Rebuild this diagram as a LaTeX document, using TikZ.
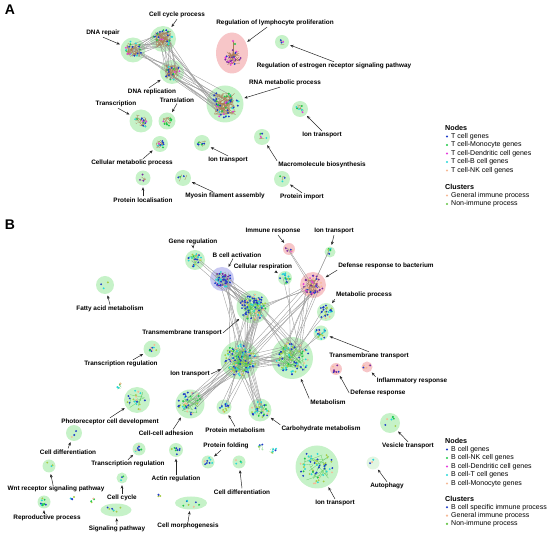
\documentclass[tikz,border=0pt]{standalone}
\usepackage{fontspec}
\setmainfont{Liberation Sans}
\usetikzlibrary{arrows.meta,calc,shapes.geometric}

\definecolor{gblue}{RGB}{30,60,200}
\definecolor{ggreen}{RGB}{30,200,70}
\definecolor{gmag}{RGB}{230,60,220}
\definecolor{gcyan}{RGB}{40,215,215}
\definecolor{gpeach}{RGB}{245,185,150}
\definecolor{gyel}{RGB}{165,205,70}
\definecolor{gleg}{RGB}{100,195,70}
\definecolor{gpur}{RGB}{120,40,160}
\definecolor{gbrown}{RGB}{170,125,85}
\definecolor{cgreen}{RGB}{198,242,200}
\definecolor{cpink}{RGB}{247,198,200}
\definecolor{cblue}{RGB}{200,200,242}
\definecolor{cpale}{RGB}{226,246,226}

\pgfmathdeclarerandomlist{la}{{gblue}{gblue}{gblue}{ggreen}{ggreen}{gcyan}{gmag}}
\pgfmathdeclarerandomlist{lp}{{gmag}{gpur}{gpur}{gblue}}
\pgfmathdeclarerandomlist{lb}{{gblue}{gblue}{gblue}{gcyan}{gcyan}{ggreen}{gyel}{gyel}{gpeach}}
\pgfmathdeclarerandomlist{lbp}{{gpur}{gpur}{gblue}{gpeach}{gpeach}{gmag}}
\pgfmathdeclarerandomlist{lbb}{{gblue}{gblue}{gcyan}{gpur}}

% dots, links between clusters, links inside a cluster
\newcommand\clusterdots[5]{\foreach \i in {1,...,#2}{\pgfmathsetmacro\ga{360*rnd}\pgfmathsetmacro\gr{sqrt(rnd)}\pgfmathrandomitem{\gc}{#5}\fill[fill=\gc] ($(#1)+({#3*\gr*cos(\ga)},{#4*\gr*sin(\ga)})$) circle (1.05pt);}}
\newcommand\clusterlinks[5]{\foreach \i in {1,...,#3}\draw[link] ($(#1)+({#4*rand},{#4*rand})$) -- ($(#2)+({#5*rand},{#5*rand})$);}
\newcommand\innerlinks[4]{\foreach \i in {1,...,#2}\draw[#4] ($(#1)+({#3*rand},{#3*rand})$) -- ($(#1)+({#3*rand},{#3*rand})$);}

\begin{document}
\begin{tikzpicture}[x=1pt,y=-1pt,
  clu/.style={circle,fill=cgreen,inner sep=0pt,minimum size=#1},
  lab/.style={font=\fontsize{6.4}{7}\selectfont\bfseries,inner sep=1pt},
  leg/.style={font=\fontsize{7}{8}\selectfont,anchor=west,inner sep=0pt},
  head/.style={font=\fontsize{7.2}{8}\selectfont\bfseries,anchor=west,inner sep=0pt},
  link/.style={gray!80,line width=0.35pt},
  inA/.style={gbrown,line width=0.3pt},
  inB/.style={green!50!gray!90,line width=0.3pt,opacity=0.8},
  arr/.style={-{Stealth[length=3.4pt,width=2.8pt]},line width=0.5pt,black!85,shorten >=1.5pt}]
\useasboundingbox (0,0) rectangle (550,537);
\pgfmathsetseed{12}

\node[font=\fontsize{14}{14}\selectfont\bfseries] (pa) at (10,10) {A};
\node[font=\fontsize{14}{14}\selectfont\bfseries] (pb) at (10,225) {B};

% panel A clusters
\node[clu=25pt] (dnarep) at (133,50) {};
\node[clu=26pt] (cellcyc) at (163,39) {};
\node[clu=24pt] (dnarepl) at (172,72) {};
\node[ellipse,fill=cpink,inner sep=0pt,minimum width=32pt,minimum height=41pt] (reglym) at (232,53) {};
\coordinate (rlcore) at (233,58);
\coordinate (rltail) at (233,41);
\node[clu=14pt] (estro) at (282,42) {};
\node[clu=37pt] (rnamet) at (225,104) {};
\node[clu=23pt] (transc) at (141,121) {};
\node[clu=17pt] (transl) at (167,121) {};
\node[clu=16pt] (cellmet) at (160,144) {};
\node[clu=16pt] (iona1) at (202,143) {};
\node[clu=16pt] (macro) at (262,137) {};
\node[clu=16pt] (iona2) at (300,109) {};
\node[clu=16pt] (protimp) at (282,179) {};
\node[clu=15pt] (protloc) at (143,178) {};
\node[clu=16pt] (myosin) at (183,178) {};

% panel B clusters
\node[clu=20pt] (genereg) at (195,260) {};
\node[clu=24pt,fill=cblue] (bact) at (222,279) {};
\node[clu=14pt] (cellresp) at (285,278) {};
\node[clu=12pt,fill=cpink] (immresp) at (289,249) {};
\node[clu=11pt] (ionb1) at (330,252) {};
\node[clu=26pt,fill=cpink] (defbac) at (313,285) {};
\node[clu=18pt] (metproc) at (326,312) {};
\node[clu=15pt] (tmr) at (321,333) {};
\node[clu=33pt] (tml) at (253,307) {};
\node[clu=18pt] (fatty) at (105,285) {};
\node[clu=17pt] (trrega) at (152,349) {};
\node[clu=39pt] (ionb) at (240,360) {};
\node[clu=42pt] (metab) at (292,358) {};
\node[clu=12pt,fill=cpink] (defresp) at (336,369) {};
\node[clu=11pt,fill=cpink] (inflam) at (367,367) {};
\node[clu=26pt] (photo) at (137,400) {};
\node[clu=29pt] (cca) at (190,404) {};
\node[clu=15pt] (protmet) at (224,407) {};
\node[clu=23pt] (carbo) at (260,410) {};
\node[clu=16pt] (celldifl) at (74,433) {};
\node[clu=13pt] (trregb) at (139,449) {};
\node[clu=14pt] (actin) at (176,450) {};
\node[clu=13pt] (protfold) at (208,462) {};
\node[clu=13pt] (celldifr) at (239,462) {};
\node[clu=13pt] (wnt) at (49,466) {};
\node[clu=11pt] (cellcycb) at (122,478) {};
\node[clu=13pt] (repro) at (44,502) {};
\node[ellipse,fill=cgreen,inner sep=0pt,minimum width=31pt,minimum height=13pt] (signal) at (116,510) {};
\node[ellipse,fill=cgreen,inner sep=0pt,minimum width=32pt,minimum height=13pt] (morph) at (191,503) {};
\node[clu=43pt] (ionbot) at (317,467) {};
\node[clu=20pt] (vesic) at (390,423) {};
\node[clu=13pt,fill=cpale] (autoph) at (373,463) {};
\coordinate (fr1) at (119,386);
\coordinate (fr2) at (262,448);
\coordinate (fr3) at (273,451);
\coordinate (fr4) at (73,499);
\coordinate (fr5) at (94,501);
\coordinate (fr6) at (158,496);

% links between clusters
\clusterlinks{dnarep}{cellcyc}{14}{7}{8}
\clusterlinks{dnarep}{rnamet}{3}{6}{10}
\clusterlinks{cellcyc}{dnarepl}{10}{7}{7}
\clusterlinks{cellcyc}{rnamet}{5}{6}{10}
\clusterlinks{dnarepl}{rnamet}{9}{6}{10}
\clusterlinks{dnarep}{dnarepl}{3}{6}{6}
\clusterlinks{bact}{tml}{12}{7}{10}
\clusterlinks{bact}{ionb}{6}{7}{10}
\clusterlinks{genereg}{tml}{3}{5}{9}
\clusterlinks{tml}{ionb}{16}{10}{10}
\clusterlinks{tml}{metab}{6}{9}{12}
\clusterlinks{ionb}{metab}{14}{11}{12}
\clusterlinks{metab}{defbac}{5}{10}{7}
\clusterlinks{ionb}{defbac}{5}{10}{7}
\clusterlinks{tml}{defbac}{3}{9}{7}
\clusterlinks{cellresp}{metab}{2}{4}{10}
\clusterlinks{ionb1}{metab}{2}{3}{10}
\clusterlinks{immresp}{defbac}{2}{3}{6}
\clusterlinks{metproc}{metab}{2}{5}{10}
\clusterlinks{tmr}{metab}{2}{4}{10}
\clusterlinks{ionb}{cca}{12}{10}{8}
\clusterlinks{ionb}{protmet}{5}{10}{4}
\clusterlinks{ionb}{carbo}{10}{10}{6}

% links inside clusters
\innerlinks{dnarep}{25}{7}{inA}
\innerlinks{cellcyc}{45}{8}{inA}
\innerlinks{dnarepl}{35}{7}{inA}
\innerlinks{rlcore}{30}{7}{inA}
\draw[inA] (rlcore) -- (rltail);
\innerlinks{rnamet}{70}{11}{inA}
\innerlinks{transc}{18}{6}{inA}
\innerlinks{transl}{10}{4}{inA}
\innerlinks{cellmet}{12}{4}{inA}
\innerlinks{iona1}{6}{4}{inA}
\innerlinks{iona2}{6}{4}{inA}
\innerlinks{estro}{3}{3}{inA}
\innerlinks{macro}{3}{3}{inA}
\innerlinks{protimp}{3}{3}{inA}
\innerlinks{protloc}{3}{3}{inA}
\innerlinks{myosin}{2}{4}{inA}
\innerlinks{tml}{35}{10}{inB}
\innerlinks{ionb}{50}{12}{inB}
\innerlinks{metab}{35}{13}{inB}
\innerlinks{defbac}{25}{8}{inA}
\innerlinks{bact}{15}{7}{inB}
\innerlinks{genereg}{8}{5}{inB}
\innerlinks{cca}{14}{9}{inB}
\innerlinks{carbo}{10}{7}{inB}
\innerlinks{photo}{8}{8}{inB}
\innerlinks{ionbot}{18}{13}{inB}
\innerlinks{fr1}{3}{3}{inB}
\innerlinks{fr2}{3}{4}{inB}
\innerlinks{fr3}{3}{4}{inB}

% genes
\clusterdots{dnarep}{18}{9}{9}{la}
\clusterdots{cellcyc}{22}{10}{10}{la}
\clusterdots{dnarepl}{16}{8}{8}{la}
\clusterdots{rlcore}{22}{8}{9}{lp}
\fill[fill=ggreen] ($(rltail)+(2,3)$) circle (1.05pt);
\fill[fill=gmag] (rltail) circle (1.05pt);
\clusterdots{estro}{3}{3}{3}{la}
\clusterdots{rnamet}{45}{14}{14}{la}
\clusterdots{transc}{12}{7}{7}{la}
\clusterdots{transl}{8}{5}{5}{la}
\clusterdots{cellmet}{8}{5}{5}{la}
\clusterdots{iona1}{6}{5}{5}{la}
\clusterdots{macro}{4}{5}{5}{la}
\clusterdots{iona2}{6}{5}{5}{la}
\clusterdots{protimp}{3}{4}{4}{la}
\clusterdots{protloc}{3}{4}{4}{lp}
\clusterdots{myosin}{3}{5}{5}{la}
\clusterdots{genereg}{28}{7}{7}{lb}
\clusterdots{bact}{40}{9}{9}{lbb}
\clusterdots{cellresp}{16}{5}{5}{lb}
\clusterdots{immresp}{7}{4}{4}{lbp}
\clusterdots{ionb1}{7}{4}{4}{lb}
\clusterdots{defbac}{50}{10}{10}{lbp}
\clusterdots{metproc}{25}{7}{7}{lb}
\clusterdots{tmr}{20}{6}{6}{lb}
\clusterdots{tml}{80}{13}{13}{lb}
\clusterdots{fatty}{3}{5}{5}{lb}
\clusterdots{trrega}{10}{5}{5}{lb}
\clusterdots{ionb}{110}{16}{16}{lb}
\clusterdots{metab}{70}{17}{17}{lb}
\clusterdots{defresp}{8}{4}{4}{lbp}
\clusterdots{inflam}{6}{4}{4}{lbp}
\clusterdots{photo}{18}{10}{10}{lb}
\clusterdots{cca}{35}{12}{12}{lb}
\clusterdots{protmet}{14}{5}{5}{lb}
\clusterdots{carbo}{28}{9}{9}{lb}
\clusterdots{celldifl}{3}{5}{5}{lb}
\clusterdots{trregb}{8}{4}{4}{lb}
\clusterdots{actin}{8}{5}{5}{lb}
\clusterdots{protfold}{8}{5}{5}{lb}
\clusterdots{celldifr}{5}{4}{4}{lb}
\clusterdots{wnt}{3}{4}{4}{lb}
\clusterdots{cellcycb}{3}{3}{3}{lb}
\clusterdots{repro}{10}{4}{4}{lb}
\clusterdots{signal}{7}{11}{4}{lb}
\clusterdots{morph}{7}{11}{4}{lb}
\clusterdots{ionbot}{55}{17}{17}{lb}
\clusterdots{vesic}{7}{7}{7}{lb}
\clusterdots{autoph}{3}{4}{4}{lb}
\clusterdots{fr1}{5}{4}{4}{lb}
\clusterdots{fr2}{4}{4}{5}{lb}
\clusterdots{fr3}{5}{4}{5}{lb}
\clusterdots{fr4}{4}{3}{3}{lb}
\clusterdots{fr5}{4}{3}{3}{lb}
\clusterdots{fr6}{4}{3}{3}{lb}

% panel A labels
\node[lab] (l-dnarep) at (103,33) {DNA repair};
\node[lab] (l-cellcyc) at (177,15) {Cell cycle process};
\node[lab] (l-dnarepl) at (152,92) {DNA replication};
\node[lab] (l-reglym) at (275,23) {Regulation of lymphocyte proliferation};
\node[lab] (l-estro) at (334,66) {Regulation of estrogen receptor signaling pathway};
\node[lab] (l-rnamet) at (285,83) {RNA metabolic process};
\node[lab] (l-transc) at (116,104) {Transcription};
\node[lab] (l-transl) at (177,100) {Translation};
\node[lab] (l-cellmet) at (132,163) {Cellular metabolic process};
\node[lab] (l-iona1) at (228,160) {Ion transport};
\node[lab] (l-macro) at (322,165) {Macromolecule biosynthesis};
\node[lab] (l-iona2) at (322,135) {Ion transport};
\node[lab] (l-protimp) at (302,197) {Protein import};
\node[lab] (l-protloc) at (143,200) {Protein localisation};
\node[lab] (l-myosin) at (225,196) {Myosin filament assembly};
\draw[arr] (l-dnarep.south) -- (dnarep);
\draw[arr] (l-cellcyc.south) -- (cellcyc);
\draw[arr] ([xshift=-3pt]l-dnarepl.north) -- (dnarepl);
\draw[arr] ([xshift=-8pt]l-reglym.south) -- (reglym);
\draw[arr] (l-estro.north) -- (estro);
\draw[arr] ([xshift=-5pt]l-rnamet.south) -- (rnamet);
\draw[arr] ([xshift=2pt]l-transc.south) -- (transc);
\draw[arr] (l-transl.south) -- (transl);
\draw[arr] ([xshift=11pt]l-cellmet.north) -- (cellmet);
\draw[arr] (l-iona1.north) -- (iona1);
\draw[arr] (l-macro.north west) -- (macro);
\draw[arr] (l-iona2.north) -- (iona2);
\draw[arr] (l-protimp.north) -- (protimp);
\draw[arr] (l-protloc.north) -- (protloc);
\draw[arr] ([xshift=-12pt]l-myosin.north) -- (myosin);

% panel B labels
\node[lab] (l-genereg) at (193,242) {Gene regulation};
\node[lab] (l-bact) at (237,255) {B cell activation};
\node[lab] (l-cellresp) at (263,267) {Cellular respiration};
\node[lab] (l-immresp) at (273,231) {Immune response};
\node[lab] (l-ionb1) at (334,231) {Ion transport};
\node[lab] (l-defbac) at (386,266) {Defense response to bacterium};
\node[lab] (l-metproc) at (364,295) {Metabolic process};
\node[lab] (l-tmr) at (369,356) {Transmembrane transport};
\node[lab] (l-tml) at (182,333) {Transmembrane transport};
\node[lab] (l-fatty) at (110,309) {Fatty acid metabolism};
\node[lab] (l-trrega) at (121,364) {Transcription regulation};
\node[lab] (l-ionb) at (190,374) {Ion transport};
\node[lab] (l-metab) at (328,402) {Metabolism};
\node[lab] (l-defresp) at (378,393) {Defense response};
\node[lab] (l-inflam) at (412,381) {Inflammatory response};
\node[lab] (l-photo) at (110,422) {Photoreceptor cell development};
\node[lab] (l-cca) at (166,433) {Cell-cell adhesion};
\node[lab] (l-protmet) at (235,430) {Protein metabolism};
\node[lab] (l-carbo) at (321,429) {Carbohydrate metabolism};
\node[lab] (l-celldifl) at (68,452) {Cell differentiation};
\node[lab] (l-trregb) at (128,464) {Transcription regulation};
\node[lab] (l-actin) at (176,479) {Actin regulation};
\node[lab] (l-protfold) at (226,446) {Protein folding};
\node[lab] (l-celldifr) at (242,492) {Cell differentiation};
\node[lab] (l-wnt) at (56,489) {Wnt receptor signaling pathway};
\node[lab] (l-cellcycb) at (122,498) {Cell cycle};
\node[lab] (l-repro) at (47,518) {Reproductive process};
\node[lab] (l-signal) at (117,529) {Signaling pathway};
\node[lab] (l-morph) at (188,526) {Cell morphogenesis};
\node[lab] (l-ionbot) at (335,503) {Ion transport};
\node[lab] (l-vesic) at (408,446) {Vesicle transport};
\node[lab] (l-autoph) at (387,486) {Autophagy};
\draw[arr] (l-genereg.south) -- (genereg);
\draw[arr] ([xshift=-4pt]l-bact.south) -- (bact);
\draw[arr] ([xshift=12pt]l-cellresp.south) -- (cellresp);
\draw[arr] ([xshift=5pt]l-immresp.south) -- (immresp);
\draw[arr] (l-ionb1.south) -- (ionb1);
\draw[arr] (l-defbac.south west) -- (defbac);
\draw[arr] (l-metproc.south west) -- (metproc);
\draw[arr] (l-tmr.north) -- (tmr);
\draw[arr] (l-tml.east) -- (tml);
\draw[arr] (l-fatty.north) -- (fatty);
\draw[arr] ([xshift=12pt]l-trrega.north) -- (trrega);
\draw[arr] (l-ionb.east) -- (ionb);
\draw[arr] (l-metab.north west) -- (metab);
\draw[arr] (l-defresp.west) -- (defresp);
\draw[arr] (l-inflam.north west) -- (inflam);
\draw[arr] (l-photo.north) -- (photo);
\draw[arr] ([xshift=7pt]l-cca.north) -- (cca);
\draw[arr] (l-protmet.north) -- (protmet);
\draw[arr] (l-carbo.north west) -- (carbo);
\draw[arr] (l-celldifl.north) -- (celldifl);
\draw[arr] (l-trregb.north) -- (trregb);
\draw[arr] (l-actin.north) -- (actin);
\draw[arr] ([xshift=-5pt]l-protfold.south) -- (protfold);
\draw[arr] (l-celldifr.north) -- (celldifr);
\draw[arr] ([xshift=-3pt]l-wnt.north) -- (wnt);
\draw[arr] (l-cellcycb.north) -- (cellcycb);
\draw[arr] ([xshift=-3pt]l-repro.north) -- (repro);
\draw[arr] (l-signal.north) -- (signal);
\draw[arr] (l-morph.north) -- (morph);
\draw[arr] (l-ionbot.north) -- (ionbot);
\draw[arr] (l-vesic.north) -- (vesic);
\draw[arr] (l-autoph.north) -- (autoph);

% legends
\node[head] (nodesa) at (445,128) {Nodes};
\foreach \t/\c [count=\i] in {T cell genes/gblue,T cell-Monocyte genes/ggreen,T cell-Dendritic cell genes/gmag,T cell-B cell genes/gcyan,T cell-NK cell genes/gpeach}{
  \fill[fill=\c] (447,{128+8.5*\i}) circle (1.2pt);
  \node[leg] (na\i) at (451,{128+8.5*\i}) {\t};}
\node[head] (clusa) at (445,187) {Clusters};
\foreach \t/\c [count=\i] in {General immune process/gpeach,Non-immune process/gleg}{
  \fill[fill=\c] (447,{187+8.5*\i}) circle (1.2pt);
  \node[leg] (ca\i) at (451,{187+8.5*\i}) {\t};}
\node[head] (nodesb) at (445,441) {Nodes};
\foreach \t/\c [count=\i] in {B cell genes/gblue,B cell-NK cell genes/ggreen,B cell-Dendritic cell genes/gmag,B cell-T cell genes/gcyan,B cell-Monocyte genes/gpeach}{
  \fill[fill=\c] (447,{441+8.5*\i}) circle (1.2pt);
  \node[leg] (nb\i) at (451,{441+8.5*\i}) {\t};}
\node[head] (clusb) at (445,499) {Clusters};
\foreach \t/\c [count=\i] in {B cell specific immune process/gblue,General immune process/gpeach,Non-immune process/gleg}{
  \fill[fill=\c] (447,{499+8.3*\i}) circle (1.2pt);
  \node[leg] (cb\i) at (451,{499+8.3*\i}) {\t};}
\end{tikzpicture}
\end{document}
